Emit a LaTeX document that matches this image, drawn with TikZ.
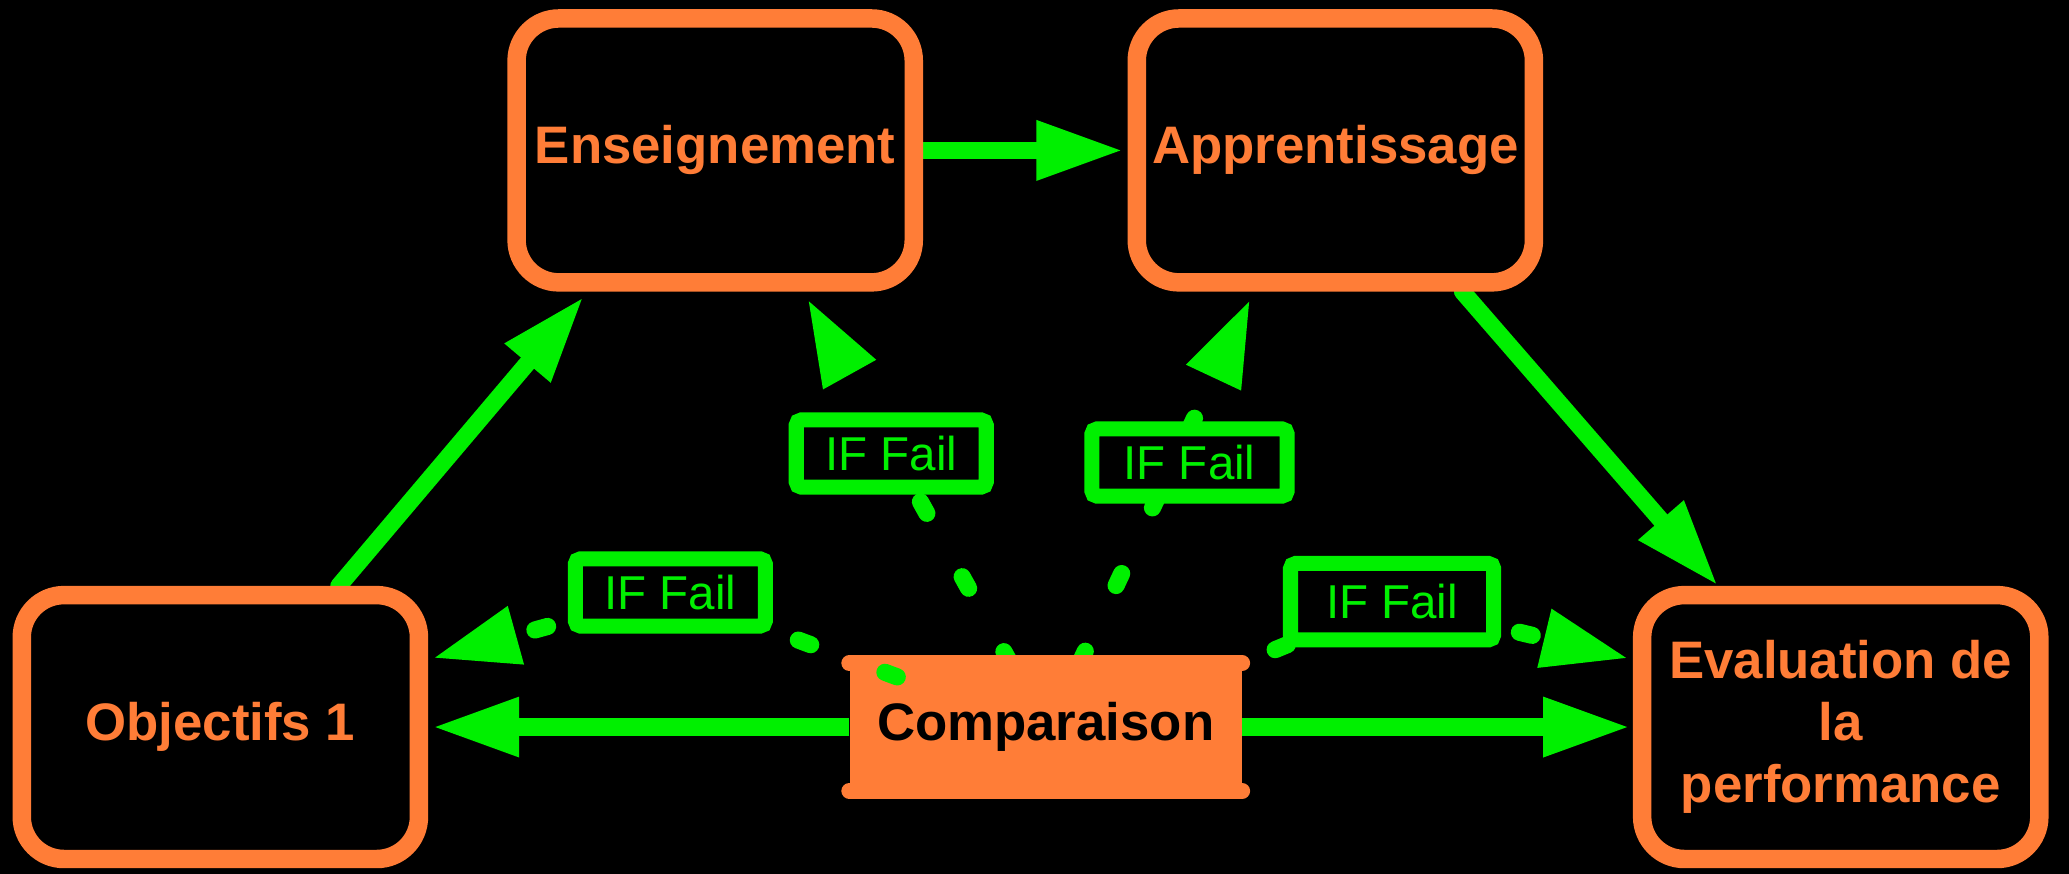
\documentclass[tikz,border=0pt]{standalone}
\usepackage{fontspec}
\setmainfont{Liberation Sans}
\usetikzlibrary{arrows.meta,positioning}
\definecolor{orng}{RGB}{255,125,55}
\definecolor{grn}{RGB}{0,240,0}
\pgfdeclarelayer{under}
\pgfsetlayers{under,main}

\begin{document}
\begin{tikzpicture}[x=0.5pt, y=-0.5pt,
	box/.style      = {draw=orng, line width=7pt, fill=black, rounded corners=16pt, minimum width=150.5pt, minimum height=100pt, inner sep=0pt, align=center, text=orng, font=\fontsize{20}{23.5}\selectfont\bfseries},
	compbox/.style  = {fill=orng, minimum width=148.5pt, minimum height=48pt, inner sep=0pt, text=black, font=\fontsize{20}{24}\selectfont\bfseries},
	bar/.style      = {draw=orng, line width=6pt, line cap=round},
	fail/.style     = {solid, draw=grn, line width=5.7pt, fill=black, rounded corners=2pt, minimum width=72pt, minimum height=25.5pt, inner sep=0pt, text=grn, font=\fontsize{18}{20}\selectfont},
	link/.style     = {draw=grn, line width=6.5pt, line cap=round, shorten >=1.5pt, -{Triangle[length=33pt,width=21pt]}},
	faillink/.style = {link, dash pattern=on 5pt off 27.5pt},
	>=latex]
	
	\useasboundingbox (0,0) rectangle (1568,662);
	
	\node[box] (ens)  at (542,114)  {Enseignement};
	\node[box] (app)  at (1012,114) {Apprentissage};
	\node[box] (obj)  at (167,551)  {Objectifs 1};
	\node[box] (eval) at (1395,551) {Evaluation de\\la\\performance};
	
	\node[compbox] (comp) at (792.5,551) {Comparaison};
	\draw[bar] (comp.north west) -- (comp.north east);
	\draw[bar] (comp.south west) -- (comp.south east);
	
	\begin{pgfonlayer}{under}
		\fill[black] (0,0) rectangle (1568,662);
		
		\draw[link] (ens.east) -- (app.west);
		\draw[link, shorten >=2.5pt] (obj.50) -- (ens.228);
		\draw[link, shorten >=0pt] (app.-48) -- (eval.131);
		\draw[link, line cap=butt] (comp.west) -- (obj.east);
		\draw[link, line cap=butt, shorten >=1pt] (comp.east) -- (eval.west);
		
		\draw[faillink, shorten >=3pt] (comp.119) -- node[fail, pos=0.55, xshift=-2pt, yshift=2pt] (f1) {IF Fail} (ens.-58);
		\draw[faillink, shorten >=3pt] (comp.62) -- node[fail, pos=0.54, xshift=6pt, minimum width=74pt] (f2) {IF Fail} (app.-120);
		\draw[faillink, dash phase=19pt] (comp.north east) -- (1055,456) node[fail, minimum width=77pt, minimum height=29pt] (f4) {IF Fail} -- (eval.162);
	\end{pgfonlayer}
	
	% this one runs over the Comparaison box
	\coordinate (s3) at (680,513);
	\draw[faillink, dash pattern=on 5pt off 30pt] (s3) -- (508,449) node[fail] (f3) {IF Fail} -- (obj.18);
	
\end{tikzpicture}
\end{document}
